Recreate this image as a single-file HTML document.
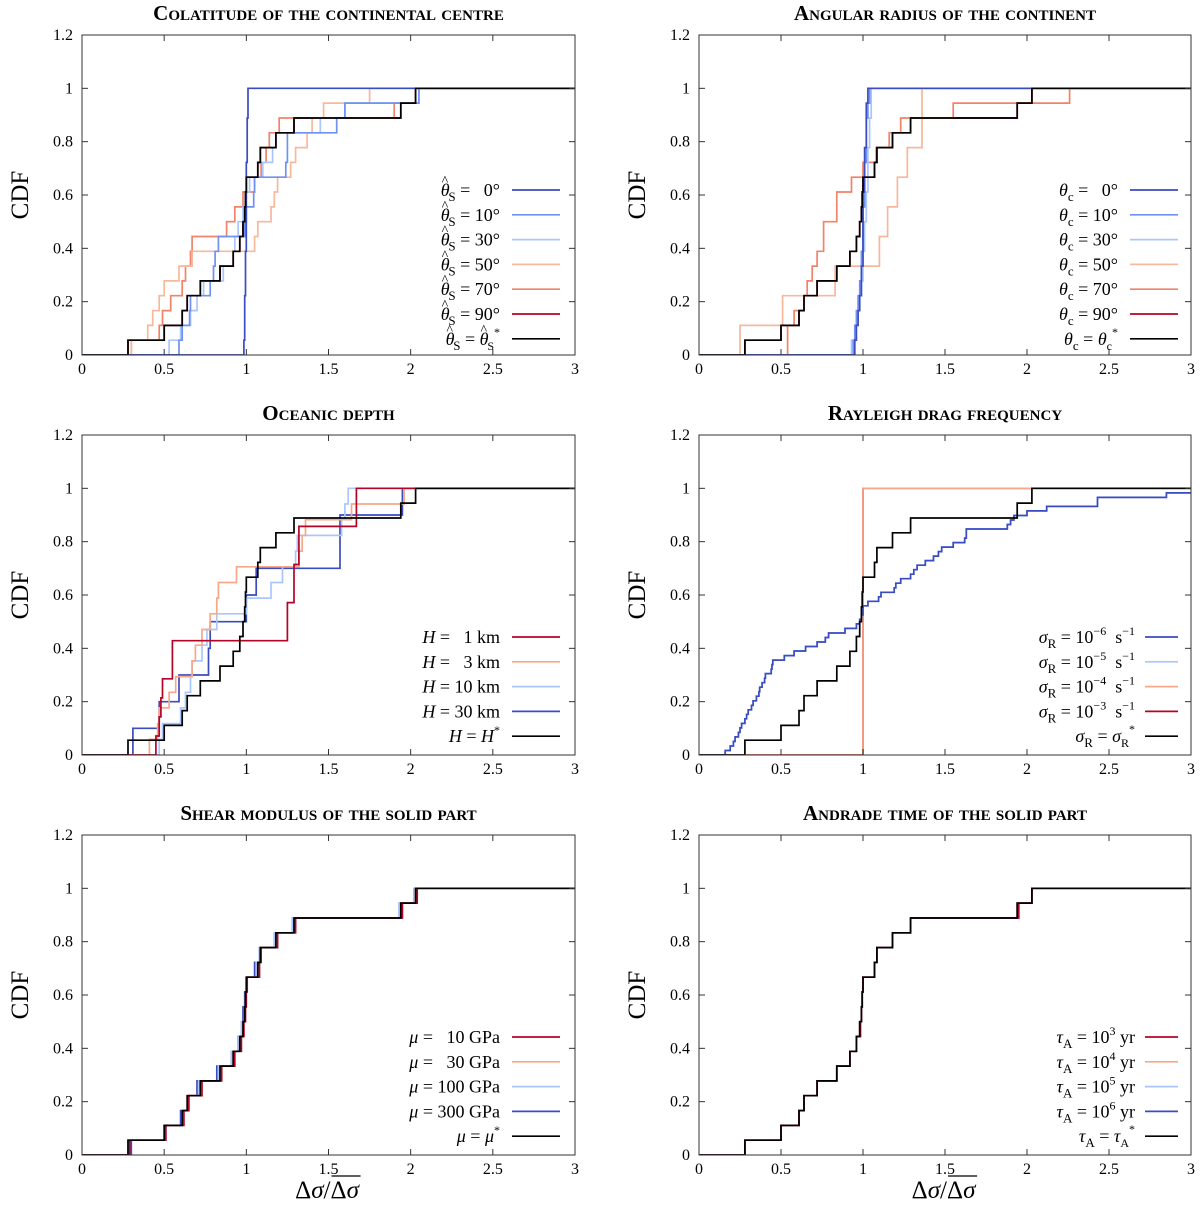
<!DOCTYPE html>
<html><head><meta charset="utf-8"><style>
body{margin:0;background:#fff;}
svg{display:block;font-family:"Liberation Serif",serif;}
text{white-space:pre;}
</style></head><body>
<svg id="fig" width="1200" height="1218" viewBox="0 0 1200 1218"></svg>
<script>
// ---- data ----
const refVals=[0.28,0.5,0.61,0.64,0.72,0.84,0.92,0.96,0.98,0.99,0.995,1.0,1.07,1.085,1.18,1.29,1.94,2.03];
const p1_0=[0.985,0.99,0.99,0.99,0.995,0.995,0.995,1.0,1.0,1.0,1.0,1.0,1.0,1.005,1.005,1.005,1.01,1.01];
const p1_10=[0.59,0.61,0.655,0.66,0.78,0.8,0.81,0.83,0.99,1.0,1.045,1.05,1.24,1.25,1.25,1.55,1.6,2.05];
const p1_30=[0.53,0.6,0.66,0.7,0.74,0.86,0.92,0.93,0.95,0.98,1.0,1.02,1.1,1.16,1.18,1.45,1.6,2.05];
const p1_50=[0.3,0.4,0.43,0.47,0.5,0.59,0.67,1.05,1.07,1.15,1.17,1.19,1.27,1.3,1.37,1.4,1.47,1.75];
const p1_70=[0.3,0.47,0.49,0.54,0.61,0.63,0.66,0.67,0.88,0.93,0.98,1.05,1.09,1.12,1.14,1.2,1.9,2.03];
const p1_90=[0.28,0.5,0.61,0.64,0.72,0.84,0.92,0.96,0.98,0.99,0.995,1.0,1.07,1.085,1.18,1.29,1.94,2.03];
const p2_0=[0.95,0.96,0.97,0.98,0.99,0.99,1.0,1.0,1.0,1.0,1.0,1.01,1.01,1.01,1.02,1.02,1.02,1.03];
const p2_10=[0.94,0.95,0.96,0.97,0.98,0.99,0.99,1.0,1.0,1.0,1.01,1.01,1.01,1.02,1.02,1.02,1.03,1.04];
const p2_30=[0.93,0.95,0.97,0.98,0.99,1.0,1.0,1.01,1.01,1.02,1.02,1.03,1.03,1.03,1.04,1.04,1.05,1.05];
const p2_50=[0.25,0.25,0.51,0.51,0.83,0.83,1.1,1.1,1.15,1.15,1.21,1.21,1.27,1.27,1.36,1.36,1.36,1.36];
const p2_70=[0.54,0.54,0.58,0.64,0.66,0.69,0.72,0.76,0.76,0.84,0.84,0.93,1.0,1.08,1.16,1.23,1.55,2.26];
const p2_90=[0.28,0.5,0.61,0.64,0.72,0.84,0.92,0.96,0.98,0.99,0.995,1.0,1.07,1.085,1.18,1.29,1.94,2.03];
const p3_1=[0.45,0.47,0.48,0.49,0.55,0.55,1.25,1.25,1.29,1.29,1.32,1.32,1.67,1.67];
const p3_3=[0.41,0.46,0.47,0.53,0.57,0.67,0.69,0.73,0.78,0.82,0.83,0.94,1.32,1.34,1.36,1.64,1.96];
const p3_10=[0.47,0.49,0.6,0.63,0.66,0.67,0.73,0.76,0.82,1.0,1.15,1.22,1.3,1.31,1.58,1.6,1.62];
const p3_30=[0.31,0.47,0.59,0.77,0.78,1.0,1.06,1.57,1.57,1.95];
const p4_6=[0.16,0.19,0.21,0.22,0.24,0.25,0.26,0.28,0.29,0.30,0.32,0.33,0.35,0.365,0.37,0.385,0.40,0.405,0.44,0.445,0.45,0.52,0.58,0.65,0.72,0.77,0.79,0.89,0.96,0.98,0.99,1.0,1.0,1.03,1.095,1.11,1.19,1.2,1.23,1.29,1.31,1.33,1.38,1.43,1.46,1.48,1.55,1.62,1.63,1.63,1.88,1.9,1.92,2.0,2.12,2.43,2.43,2.85,3.5];
const p4_5=p4_6.slice();
const p4_4=[1.0,1.0,1.0,1.0,1.0,1.0,1.0,1.0,1.0,1.0,1.0,1.0,1.0,1.0,1.0,1.0,1.0,1.0];
const p4_3=[1.0,1.0,1.0,1.0,1.0,1.0,1.0,1.0,1.0,1.0,1.0,1.0,1.0,1.0,1.0,1.0,1.0,1.0];
const p5_10=[0.29,0.51,0.62,0.65,0.73,0.85,0.93,0.97,0.985,0.995,1.0,1.005,1.08,1.09,1.19,1.3,1.95,2.04];
const p5_30=[0.28,0.5,0.61,0.64,0.72,0.84,0.92,0.96,0.98,0.99,0.995,1.0,1.07,1.085,1.18,1.29,1.94,2.03];
const p5_100=[0.28,0.5,0.61,0.64,0.71,0.83,0.91,0.95,0.97,0.99,0.995,1.0,1.06,1.08,1.17,1.28,1.93,2.02];
const p5_300=[0.3,0.51,0.6,0.65,0.7,0.82,0.91,0.95,0.97,0.98,0.99,1.0,1.05,1.08,1.17,1.28,1.93,2.02];
const p6_3=[0.28,0.5,0.61,0.64,0.72,0.84,0.92,0.96,0.985,0.99,0.995,1.0,1.07,1.085,1.18,1.29,1.95,2.03];
const p6_4=refVals.slice(),p6_5=refVals.slice(),p6_6=refVals.slice();
const xTicks=[0,0.5,1,1.5,2,2.5,3];
const xTickLabels=["0","0.5","1","1.5","2","2.5","3"];
const yTicks=[0,0.2,0.4,0.6,0.8,1,1.2];
const yTickLabels=["0","0.2","0.4","0.6","0.8","1","1.2"];

const C0="#3b4cc0",C1="#6f92f3",C2="#aac7fd",C3="#f7b89c",C4="#f08368",C5="#b40426",CS="#f7a889";
const sub=(a,b)=>a+'<tspan font-size="13" dy="5">'+b+'</tspan><tspan dy="-5"> </tspan>';
const th='<tspan font-style="italic">θ</tspan><tspan font-size="14" dx="-8" dy="-11">^</tspan><tspan font-size="1" dy="11"> </tspan>';
const tc='<tspan font-style="italic">θ</tspan>';
const panels=[
 {x0:82,x1:575,yb:355,yt:35,title:"Colatitude of the continental centre",leg:[512,190],txtEnd:500,
  series:[[p1_0,C0,sub(th,'S')+'=   0°'],[p1_10,C1,sub(th,'S')+'= 10°'],[p1_30,C2,sub(th,'S')+'= 30°'],[p1_50,C3,sub(th,'S')+'= 50°'],[p1_70,C4,sub(th,'S')+'= 70°'],[p1_90,C5,sub(th,'S')+'= 90°'],[refVals,"#000",sub(th,'S')+'= '+th+'<tspan font-size="12" dy="5">S</tspan><tspan font-size="12" dy="-14">*</tspan>']]},
 {x0:699,x1:1191,yb:355,yt:35,title:"Angular radius of the continent",leg:[1130,190],txtEnd:1118,
  series:[[p2_0,C0,sub(tc,'c')+'=   0°'],[p2_10,C1,sub(tc,'c')+'= 10°'],[p2_30,C2,sub(tc,'c')+'= 30°'],[p2_50,C3,sub(tc,'c')+'= 50°'],[p2_70,C4,sub(tc,'c')+'= 70°'],[p2_90,C5,sub(tc,'c')+'= 90°'],[refVals,"#000",sub(tc,'c')+'= '+tc+'<tspan font-size="12" dy="5">c</tspan><tspan font-size="12" dy="-14">*</tspan>']]},
 {x0:82,x1:575,yb:755,yt:435,title:"Oceanic depth",leg:[512,637],txtEnd:500,
  series:[[p3_1,C5,'<tspan font-style="italic">H</tspan> =   1 km'],[p3_3,CS,'<tspan font-style="italic">H</tspan> =   3 km'],[p3_10,C2,'<tspan font-style="italic">H</tspan> = 10 km'],[p3_30,C0,'<tspan font-style="italic">H</tspan> = 30 km'],[refVals,"#000",'<tspan font-style="italic">H</tspan> = <tspan font-style="italic">H</tspan><tspan font-size="12" dy="-8">*</tspan>']]},
 {x0:699,x1:1191,yb:755,yt:435,title:"Rayleigh drag frequency",leg:[1145,637],txtEnd:1135,lineLen:33,
  series:[[p4_6,C0,'-6'],[p4_5,C2,'-5'],[p4_4,CS,'-4'],[p4_3,C5,'-3'],[refVals,"#000",'*']]},
 {x0:82,x1:575,yb:1155,yt:835,title:"Shear modulus of the solid part",leg:[512,1037],txtEnd:500,
  series:[[p5_10,C5,'<tspan font-style="italic">μ</tspan> =   10 GPa'],[p5_30,CS,'<tspan font-style="italic">μ</tspan> =   30 GPa'],[p5_100,C2,'<tspan font-style="italic">μ</tspan> = 100 GPa'],[p5_300,C0,'<tspan font-style="italic">μ</tspan> = 300 GPa'],[refVals,"#000",'<tspan font-style="italic">μ</tspan> = <tspan font-style="italic">μ</tspan><tspan font-size="12" dy="-8">*</tspan>']]},
 {x0:699,x1:1191,yb:1155,yt:835,title:"Andrade time of the solid part",leg:[1145,1037],txtEnd:1135,lineLen:33,
  series:[[p6_3,C5,'3'],[p6_4,CS,'4'],[p6_5,C2,'5'],[p6_6,C0,'6'],[refVals,"#000",'*']]}
];
function sigLabel(e){const s=sub('<tspan font-style="italic">σ</tspan>','R');
 if(e==='*')return s+'= <tspan font-style="italic">σ</tspan><tspan font-size="12" dy="5">R</tspan><tspan font-size="12" dy="-14">*</tspan>';
 return s+'= 10<tspan font-size="12" dy="-8">−'+e.slice(1)+'</tspan><tspan dy="8">  s</tspan><tspan font-size="12" dy="-8">−1</tspan>';}
function tauLabel(e){const s=sub('<tspan font-style="italic">τ</tspan>','A');
 if(e==='*')return s+'= <tspan font-style="italic">τ</tspan><tspan font-size="12" dy="5">A</tspan><tspan font-size="12" dy="-14">*</tspan>';
 return s+'= 10<tspan font-size="12" dy="-8">'+e+'</tspan><tspan dy="8"> yr</tspan>';}
const NS="http://www.w3.org/2000/svg";
const fig=document.getElementById('fig');
function mk(tag,attrs,parent){const e=document.createElementNS(NS,tag);for(const k in attrs)e.setAttribute(k,attrs[k]);(parent||fig).appendChild(e);return e;}
panels.forEach((p,pi)=>{
 const g=mk('g',{});
 
 
 const xs=v=>p.x0+(v/3)*(p.x1-p.x0);
 const ys=v=>p.yb-(v/1.2)*(p.yb-p.yt);
 const cid='clip'+pi;
 const cp=mk('clipPath',{id:cid},g);mk('rect',{x:p.x0,y:p.yt,width:p.x1-p.x0,height:p.yb-p.yt},cp);
 // series: colored drawn in reverse legend order, reference (last) on top
 const nS=p.series.length;
 const order=[];for(let i=nS-2;i>=0;i--)order.push(i);order.push(nS-1);
 order.forEach(si=>{
  const s=p.series[si];
  const vals=s[0].slice().sort((a,b)=>a-b),n=vals.length;
  let d='M'+xs(0)+','+ys(0);let lvl=0;
  vals.forEach((v,i)=>{d+=' L'+xs(v).toFixed(1)+','+ys(lvl).toFixed(1);lvl=(i+1)/n;d+=' L'+xs(v).toFixed(1)+','+ys(lvl).toFixed(1);});
  d+=' L'+xs(4.5)+','+ys(lvl).toFixed(1);
  const path=mk('path',{d:d,fill:'none',stroke:s[1],'stroke-width':1.7,'clip-path':'url(#'+cid+')'},g);
  
  
 });
 const fr=mk('rect',{x:p.x0,y:p.yt,width:p.x1-p.x0,height:p.yb-p.yt,fill:'none',stroke:'#333','stroke-width':1},g);
 
 
 xTicks.forEach((t,i)=>{
  const x=xs(t);
  mk('line',{x1:x,x2:x,y1:p.yb,y2:p.yb-6,stroke:'#333'},g);
  mk('line',{x1:x,x2:x,y1:p.yt,y2:p.yt+6,stroke:'#333'},g);
  const tx=mk('text',{x:x,y:p.yb+19,'text-anchor':'middle','font-size':16},g);tx.textContent=xTickLabels[i];
  
  
 });
 yTicks.forEach((t,i)=>{
  const y=ys(t);
  mk('line',{x1:p.x0,x2:p.x0+6,y1:y,y2:y,stroke:'#333'},g);
  mk('line',{x1:p.x1,x2:p.x1-6,y1:y,y2:y,stroke:'#333'},g);
  const tx=mk('text',{x:p.x0-9,y:y+5,'text-anchor':'end','font-size':16},g);tx.textContent=yTickLabels[i];
  
  
 });
 const tt=mk('text',{x:(p.x0+p.x1)/2,y:p.yt-15,'text-anchor':'middle','font-size':21,'font-weight':'bold','font-variant':'small-caps'},g);
 tt.textContent=p.title;
 
 
 const yl=mk('text',{x:0,y:0,'text-anchor':'middle','font-size':25,transform:'translate('+(p.x0-54)+','+((p.yt+p.yb)/2)+') rotate(-90)'},g);
 yl.textContent='CDF';
 
 
 const LL=p.lineLen||48;
 p.series.forEach((s,si)=>{
  const y=p.leg[1]+si*24.8;
  const lg=mk('g',{},g);
  
  
  mk('line',{x1:p.leg[0],x2:p.leg[0]+LL,y1:y,y2:y,stroke:s[1],'stroke-width':1.7},lg);
  const t=mk('text',{x:p.txtEnd,y:y+6,'text-anchor':'end','font-size':18},lg);
  t.innerHTML= pi===3?sigLabel(s[2]):pi===5?tauLabel(s[2]):s[2];
 });
 if(pi>=4){
  const cx=(p.x0+p.x1)/2;
  const xg=mk('g',{},g);
  
  
  const a=mk('text',{x:cx+2,y:1198,'text-anchor':'end','font-size':25},xg);
  a.innerHTML='Δ<tspan font-style="italic">σ</tspan>/';
  const b=mk('text',{x:cx+2,y:1198,'text-anchor':'start','font-size':25},xg);
  b.innerHTML='Δ<tspan font-style="italic">σ</tspan>';
  const bb=b.getBBox();
  mk('line',{x1:bb.x+1,x2:bb.x+bb.width,y1:1176,y2:1176,stroke:'#000','stroke-width':1.3},xg);
 }
});
</script>
</body></html>
